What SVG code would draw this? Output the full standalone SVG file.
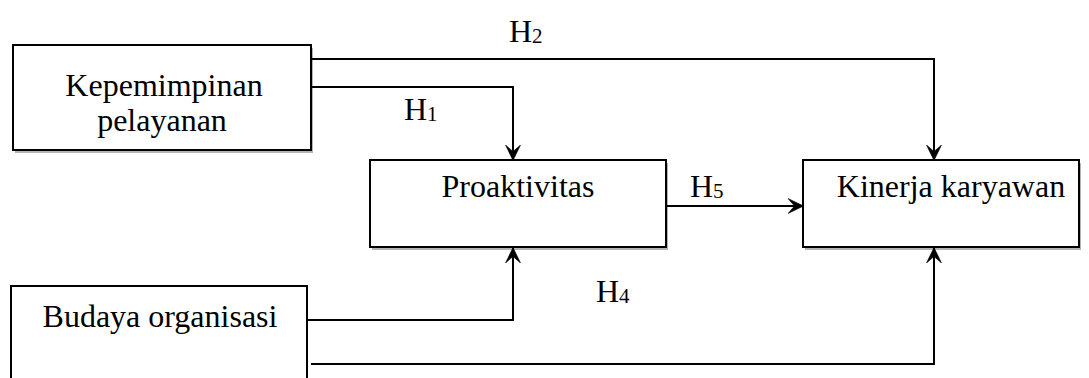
<svg xmlns="http://www.w3.org/2000/svg" width="1089" height="378" viewBox="0 0 1089 378">
<defs>
<marker id="arr" markerUnits="userSpaceOnUse" viewBox="0 0 16 16" refX="15" refY="8" markerWidth="16" markerHeight="16" orient="auto">
<path d="M0,0.5 L15.5,8 L0,15.5 L6.5,8 z" fill="#000" stroke="#000" stroke-width="0.6" stroke-linejoin="miter"/>
</marker>
</defs>
<style>
.shadow{fill:#b4b4b4;stroke:none}
.box{fill:#fff;stroke:#000;stroke-width:2}
.lbl{font-family:"Liberation Serif","Times New Roman",serif;font-size:32px;fill:#000}
.sub{font-size:21px}
.conn{fill:none;stroke:#000;stroke-width:2}
</style>
<rect width="1089" height="378" fill="#fff"/>
<g id="kepemimpinan">
<rect class="shadow" x="15" y="48" width="298" height="105"/>
<rect class="box" x="13" y="45" width="298" height="105"/>
<text class="lbl" x="164" y="96" text-anchor="middle">Kepemimpinan</text>
<text class="lbl" x="162" y="131" text-anchor="middle">pelayanan</text>
</g>
<g id="proaktivitas">
<rect class="shadow" x="372" y="163" width="296" height="87"/>
<rect class="box" x="370" y="160" width="296" height="87"/>
<text class="lbl" x="518" y="197" text-anchor="middle">Proaktivitas</text>
</g>
<g id="kinerja">
<rect class="shadow" x="805" y="163" width="276" height="87"/>
<rect class="box" x="803" y="160" width="276" height="87"/>
<text class="lbl" x="951" y="197" text-anchor="middle">Kinerja karyawan</text>
</g>
<g id="budaya">
<rect class="box" x="11" y="286" width="296" height="130"/>
<text class="lbl" x="160" y="327" text-anchor="middle">Budaya organisasi</text>
</g>
<g id="connectors">
<path class="conn" d="M311,59 H934 V160" marker-end="url(#arr)"/>
<path class="conn" d="M311,87 H513 V160" marker-end="url(#arr)"/>
<path class="conn" d="M666,206 H803" marker-end="url(#arr)"/>
<path class="conn" d="M307,320 H513 V248" marker-end="url(#arr)"/>
<path class="conn" d="M311,364 H934 V248" marker-end="url(#arr)"/>
</g>
<g id="labels">
<text class="lbl" x="509" y="42">H<tspan class="sub" dy="1">2</tspan></text>
<text class="lbl" x="404" y="120">H<tspan class="sub" dy="1">1</tspan></text>
<text class="lbl" x="690" y="197">H<tspan class="sub" dy="1">5</tspan></text>
<text class="lbl" x="596" y="302">H<tspan class="sub" dy="1">4</tspan></text>
</g>
</svg>
